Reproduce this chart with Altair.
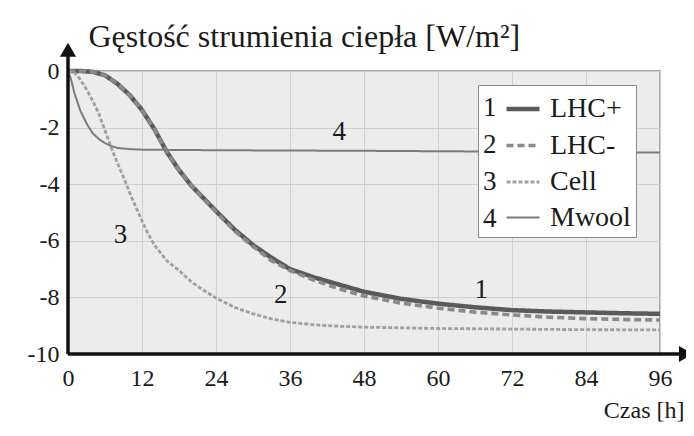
import altair as alt
import pandas as pd

# ---- data ----
series_names = ["LHC+", "LHC-", "Cell", "Mwool"]

lhc_plus_t = [0, 2, 4, 6, 8, 10, 12, 14, 16, 18, 20, 22, 24, 27, 30, 33, 36, 40, 44, 48, 54, 60, 66, 72, 78, 84, 90, 96]
lhc_plus_q = [0, 0.0, -0.03, -0.15, -0.45, -0.85, -1.38, -2.05, -2.85, -3.5, -4.05, -4.5, -4.95, -5.6, -6.15, -6.6, -7.0, -7.3, -7.55, -7.8, -8.05, -8.22, -8.35, -8.45, -8.5, -8.53, -8.56, -8.58]

lhc_minus_t = [0, 2, 4, 6, 8, 10, 12, 14, 16, 18, 20, 22, 24, 27, 30, 33, 36, 40, 44, 48, 54, 60, 66, 72, 78, 84, 90, 96]
lhc_minus_q = [0, 0.0, -0.03, -0.15, -0.45, -0.85, -1.38, -2.05, -2.85, -3.5, -4.05, -4.52, -4.98, -5.65, -6.2, -6.7, -7.05, -7.4, -7.7, -7.95, -8.2, -8.38, -8.52, -8.62, -8.7, -8.75, -8.78, -8.8]

cell_t = [0, 1, 2, 3, 4, 5, 6, 7, 8, 9, 10, 11, 12, 13, 14, 16, 18, 20, 22, 24, 27, 30, 33, 36, 40, 44, 48, 60, 72, 84, 96]
cell_q = [0, -0.05, -0.3, -0.65, -1.05, -1.5, -2.1, -2.7, -3.25, -3.75, -4.3, -4.8, -5.3, -5.75, -6.15, -6.7, -7.05, -7.45, -7.75, -8.02, -8.35, -8.58, -8.76, -8.88, -8.97, -9.02, -9.05, -9.1, -9.12, -9.14, -9.15]

mwool_t = [0, 0.5, 1, 2, 3, 4, 5, 6, 7, 8, 10, 12, 24, 48, 72, 96]
mwool_q = [0, -0.3, -0.75, -1.4, -1.85, -2.2, -2.4, -2.55, -2.65, -2.72, -2.76, -2.78, -2.8, -2.82, -2.85, -2.88]

x_ticks = [0, 12, 24, 36, 48, 60, 72, 84, 96]
y_grid = [0, -1, -2, -3, -4, -5, -6, -7, -8, -9, -10]

curve_label_text = ["1", "2", "3", "4"]
curve_label_x = [67, 34.5, 8.5, 44]
curve_label_y = [-7.75, -7.9, -5.8, -2.15]

line_colors = ["#5a5a5a", "#8a8a8a", "#a0a0a0", "#7c7c7c"]
line_widths = [4.5, 2, 3.5, 2]
line_dashes = [[1, 0], [7, 4], [4, 2], [1, 0]]

FONT = "Liberation Serif"

rows = []
for name, ts, qs in zip(series_names,
                        [lhc_plus_t, lhc_minus_t, cell_t, mwool_t],
                        [lhc_plus_q, lhc_minus_q, cell_q, mwool_q]):
    for t, q in zip(ts, qs):
        rows.append({"series": name, "t": t, "q": q})
df = pd.DataFrame(rows)

labels_df = pd.DataFrame({"txt": curve_label_text, "t": curve_label_x, "q": curve_label_y})

x_scale = alt.Scale(domain=[0, 96], nice=False, zero=False)
y_scale = alt.Scale(domain=[-10, 0], nice=False, zero=False)

x_axis = alt.Axis(values=x_ticks, grid=True, gridColor="#d0d0d0", gridWidth=1,
                  domain=False, ticks=False, labelPadding=12, labelFlush=False,
                  title="Czas [h]", titleFontSize=24,
                  titleX=616, titleY=56, titleAlign="right", titleBaseline="middle")
y_axis = alt.Axis(values=y_grid, grid=True, gridColor="#d0d0d0", gridWidth=1,
                  domain=False, ticks=False, labelPadding=9,
                  labelExpr="datum.value % 2 == 0 ? '' + datum.value : ''",
                  title="Gęstość strumienia ciepła [W/m²]",
                  titleFontSize=32,
                  titleAngle=0, titleX=20, titleY=-35, titleAlign="left",
                  titleBaseline="middle")

lines = alt.Chart(df).mark_line(clip=False).encode(
    x=alt.X("t:Q", scale=x_scale, axis=x_axis),
    y=alt.Y("q:Q", scale=y_scale, axis=y_axis),
    color=alt.Color("series:N", scale=alt.Scale(domain=series_names, range=line_colors),
                    sort=series_names,
                    legend=alt.Legend(
                        orient="none", legendX=410, legendY=14,
                        title=curve_label_text, titleOrient="left",
                        titleFontSize=27, titleLineHeight=37, titlePadding=7,
                        titleBaseline="line-top", titleAnchor="start",
                        labelFontSize=28,
                        symbolType="stroke", symbolSize=1089, rowPadding=4,
                        fillColor="white", strokeColor="#8a8a8a", padding=5,
                        labelOffset=8)),
    strokeDash=alt.StrokeDash("series:N", scale=alt.Scale(domain=series_names, range=line_dashes),
                              sort=series_names),
    strokeWidth=alt.StrokeWidth("series:N", scale=alt.Scale(domain=series_names, range=line_widths),
                                sort=series_names),
    detail="series:N",
)

curve_labels = alt.Chart(labels_df).mark_text(fontSize=27, color="#1a1a1a").encode(
    x=alt.X("t:Q", scale=x_scale),
    y=alt.Y("q:Q", scale=y_scale),
    text="txt:N",
)

# axis lines with arrow heads (data coordinates)
axis_lines_df = pd.DataFrame({"t": [0, 0], "t2": [0, 99.6], "q": [-10, -10], "q2": [0.55, -10]})
axis_rules = alt.Chart(axis_lines_df).mark_rule(color="#111111", strokeWidth=3.5, clip=False).encode(
    x=alt.X("t:Q", scale=x_scale), x2="t2:Q",
    y=alt.Y("q:Q", scale=y_scale), y2="q2:Q",
)
arrow_df = pd.DataFrame({"t": [0, 100.2], "q": [0.75, -10], "shape": ["triangle-up", "triangle-right"]})
arrows = alt.Chart(arrow_df).mark_point(filled=True, color="#111111", opacity=1, size=260, clip=False).encode(
    x=alt.X("t:Q", scale=x_scale),
    y=alt.Y("q:Q", scale=y_scale),
    shape=alt.Shape("shape:N", scale=None, legend=None),
)

chart = alt.layer(lines, curve_labels, axis_rules, arrows).properties(
    width=592, height=283,
    autosize=alt.AutoSizeParams(type="none"),
    padding={"left": 60, "top": 63, "right": 26, "bottom": 74},
    background="white",
).configure(font=FONT).configure_view(
    fill="#ececec", stroke="#a8a8a8", strokeWidth=2
).configure_axis(
    labelFont=FONT, titleFont=FONT, labelFontSize=24, labelColor="#1a1a1a",
    titleColor="#1a1a1a", titleFontWeight="normal"
).configure_legend(
    labelFont=FONT, titleFont=FONT, labelColor="#1a1a1a", titleColor="#1a1a1a",
    titleFontWeight="normal"
).configure_text(font=FONT)

chart.save("out.html", embed_options={"renderer": "svg", "actions": False})
